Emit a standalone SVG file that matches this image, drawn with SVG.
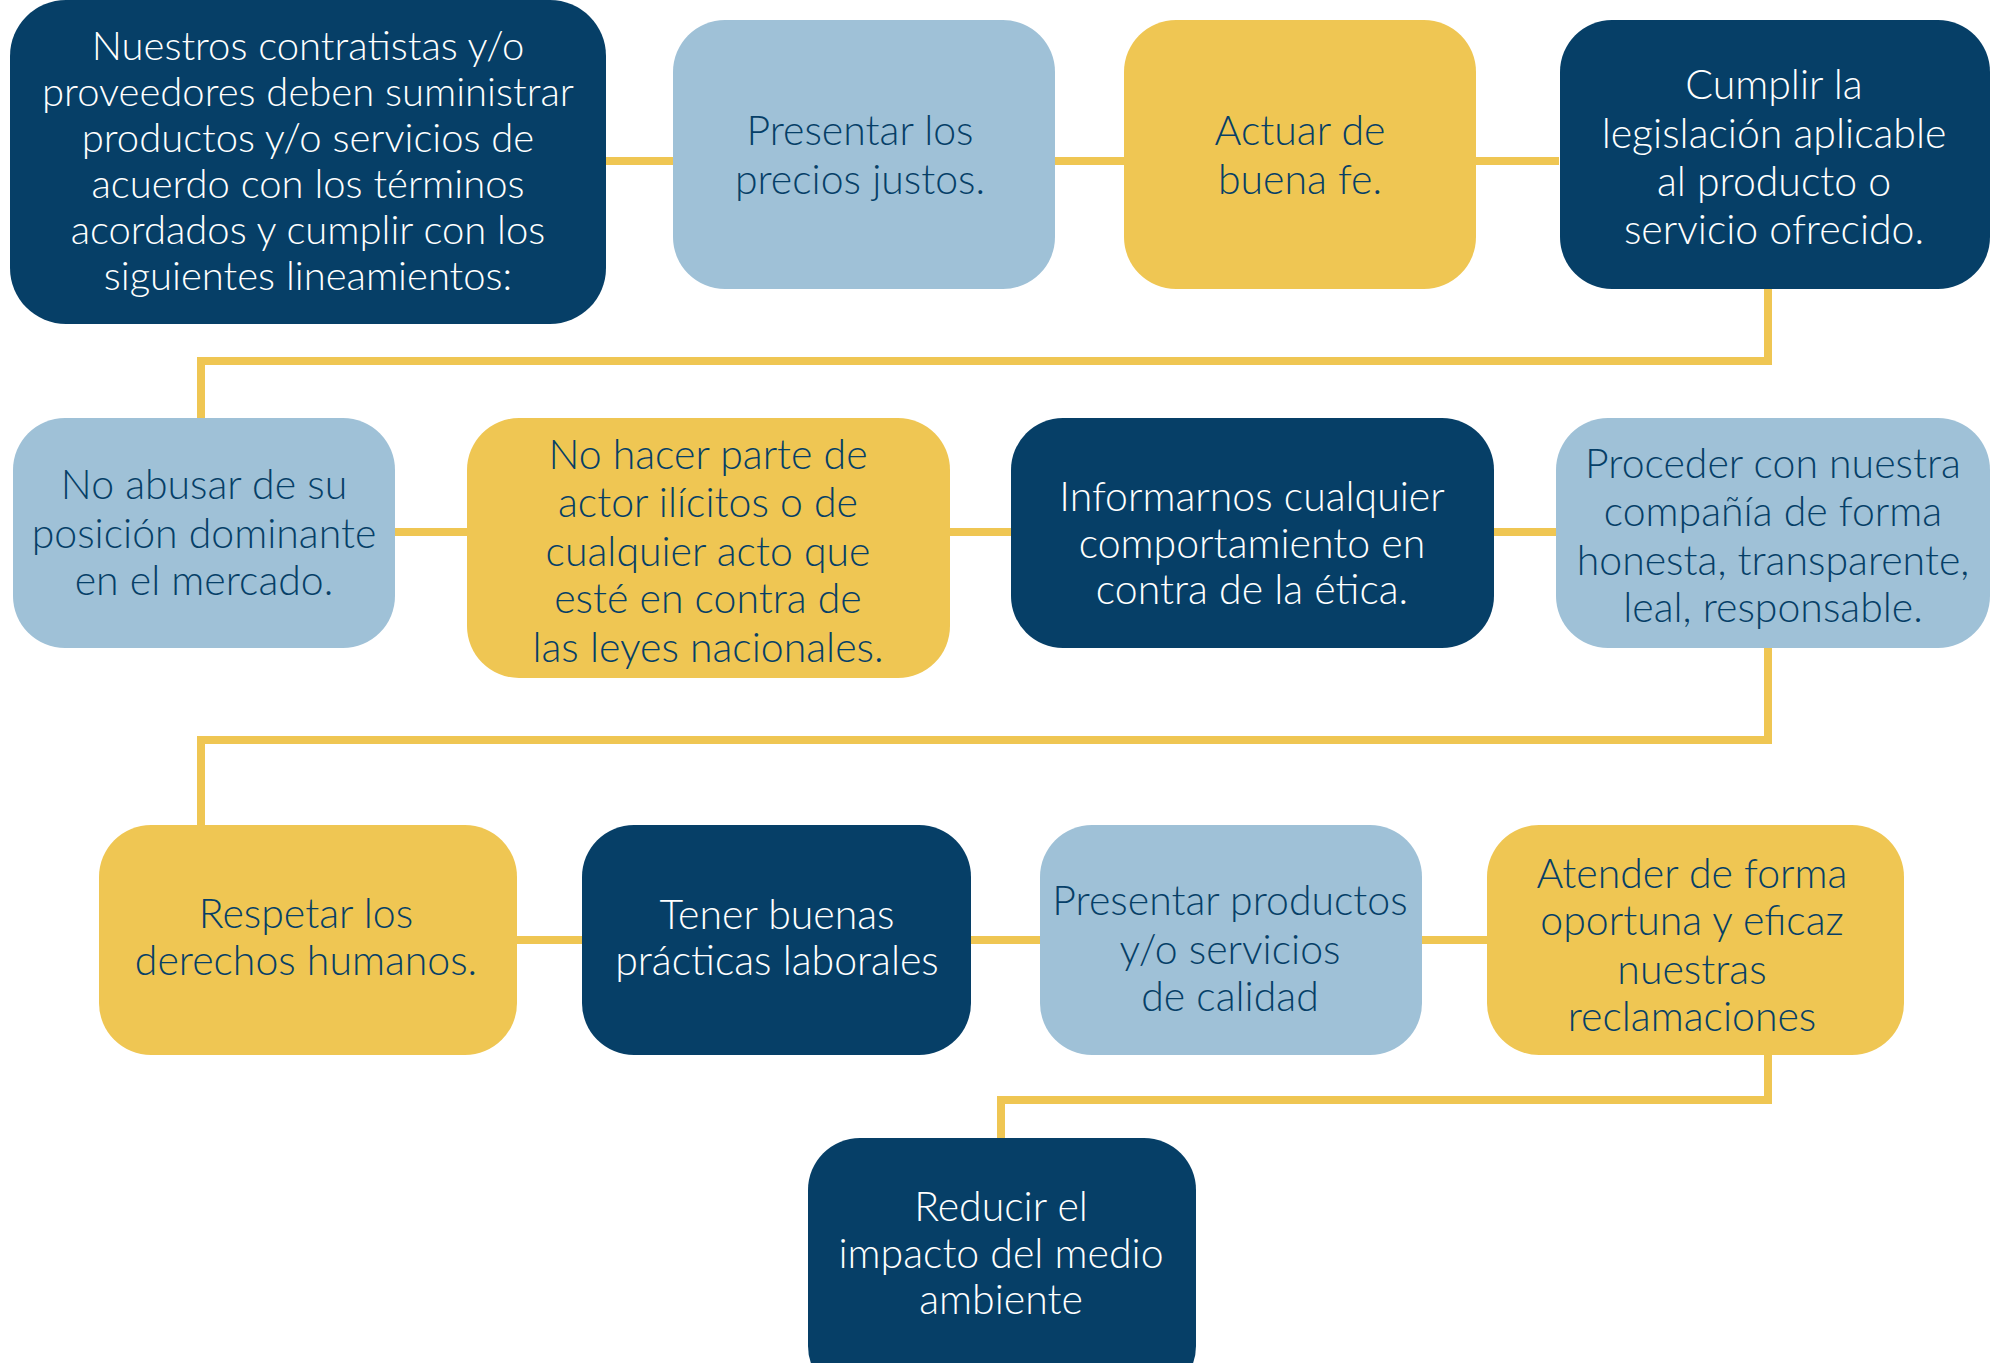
<svg xmlns="http://www.w3.org/2000/svg" width="2005" height="1363" viewBox="0 0 2005 1363">
<style>
.dark{fill:#063F67}
.light{fill:#9FC1D7}
.yel{fill:#EFC653}
text{font-family:Lato,"Liberation Sans",sans-serif;font-size:41px;font-weight:300;text-anchor:middle;dominant-baseline:central}
text.big{font-size:40px}
.tw{fill:#FFFFFF}
.td{fill:#063F67}
.conn{fill:none;stroke:#EFC653;stroke-width:8}
</style>
<rect width="2005" height="1363" fill="#FFFFFF"/>
<g id="connectors">
<line class="conn" x1="606" y1="161" x2="1559" y2="161"/>
<path class="conn" d="M1768,289 V361 H201 V418"/>
<line class="conn" x1="395" y1="532" x2="1556" y2="532"/>
<path class="conn" d="M1768,648 V740 H201 V825"/>
<line class="conn" x1="517" y1="940" x2="1487" y2="940"/>
<path class="conn" d="M1768,1055 V1100 H1001 V1138"/>
</g>
<g id="n1">
<rect class="dark" x="10" y="0" width="596" height="324" rx="56"/>
<text class="tw big"><tspan x="308" y="45">Nuestros contratistas y/o</tspan><tspan x="308" y="91">proveedores deben suministrar</tspan><tspan x="308" y="137">productos y/o servicios de</tspan><tspan x="308" y="183">acuerdo con los términos</tspan><tspan x="308" y="229">acordados y cumplir con los</tspan><tspan x="308" y="275">siguientes lineamientos:</tspan></text>
</g>
<g id="n2">
<rect class="light" x="673" y="20" width="382" height="269" rx="52"/>
<text class="td"><tspan x="860" y="129">Presentar los</tspan><tspan x="860" y="178">precios justos.</tspan></text>
</g>
<g id="n3">
<rect class="yel" x="1124" y="20" width="352" height="269" rx="52"/>
<text class="td"><tspan x="1300" y="129">Actuar de</tspan><tspan x="1300" y="178">buena fe.</tspan></text>
</g>
<g id="n4">
<rect class="dark" x="1560" y="20" width="430" height="269" rx="52"/>
<text class="tw"><tspan x="1774" y="83">Cumplir la</tspan><tspan x="1774" y="132">legislación aplicable</tspan><tspan x="1774" y="180">al producto o</tspan><tspan x="1774" y="228">servicio ofrecido.</tspan></text>
</g>
<g id="n5">
<rect class="light" x="13" y="418" width="382" height="230" rx="52"/>
<text class="td"><tspan x="204" y="483">No abusar de su</tspan><tspan x="204" y="532">posición dominante</tspan><tspan x="204" y="579">en el mercado.</tspan></text>
</g>
<g id="n6">
<rect class="yel" x="467" y="418" width="483" height="260" rx="52"/>
<text class="td"><tspan x="708" y="453">No hacer parte de</tspan><tspan x="708" y="501">actor ilícitos o de</tspan><tspan x="708" y="550">cualquier acto que</tspan><tspan x="708" y="597">esté en contra de</tspan><tspan x="708" y="646">las leyes nacionales.</tspan></text>
</g>
<g id="n7">
<rect class="dark" x="1011" y="418" width="483" height="230" rx="52"/>
<text class="tw"><tspan x="1252" y="495">Informarnos cualquier</tspan><tspan x="1252" y="542">comportamiento en</tspan><tspan x="1252" y="588">contra de la ética.</tspan></text>
</g>
<g id="n8">
<rect class="light" x="1556" y="418" width="434" height="230" rx="52"/>
<text class="td"><tspan x="1773" y="462">Proceder con nuestra</tspan><tspan x="1773" y="510">compañía de forma</tspan><tspan x="1773" y="559">honesta, transparente,</tspan><tspan x="1773" y="606">leal, responsable.</tspan></text>
</g>
<g id="n9">
<rect class="yel" x="99" y="825" width="418" height="230" rx="52"/>
<text class="td"><tspan x="306" y="912">Respetar los</tspan><tspan x="306" y="959">derechos humanos.</tspan></text>
</g>
<g id="n10">
<rect class="dark" x="582" y="825" width="389" height="230" rx="52"/>
<text class="tw"><tspan x="777" y="913">Tener buenas</tspan><tspan x="777" y="959">prácticas laborales</tspan></text>
</g>
<g id="n11">
<rect class="light" x="1040" y="825" width="382" height="230" rx="52"/>
<text class="td"><tspan x="1230" y="899">Presentar productos</tspan><tspan x="1230" y="948">y/o servicios</tspan><tspan x="1230" y="995">de calidad</tspan></text>
</g>
<g id="n12">
<rect class="yel" x="1487" y="825" width="417" height="230" rx="52"/>
<text class="td"><tspan x="1692" y="872">Atender de forma</tspan><tspan x="1692" y="919">oportuna y eficaz</tspan><tspan x="1692" y="968">nuestras</tspan><tspan x="1692" y="1015">reclamaciones</tspan></text>
</g>
<g id="n13">
<rect class="dark" x="808" y="1138" width="388" height="260" rx="52"/>
<text class="tw"><tspan x="1001" y="1205">Reducir el</tspan><tspan x="1001" y="1252">impacto del medio</tspan><tspan x="1001" y="1298">ambiente</tspan></text>
</g>
</svg>
